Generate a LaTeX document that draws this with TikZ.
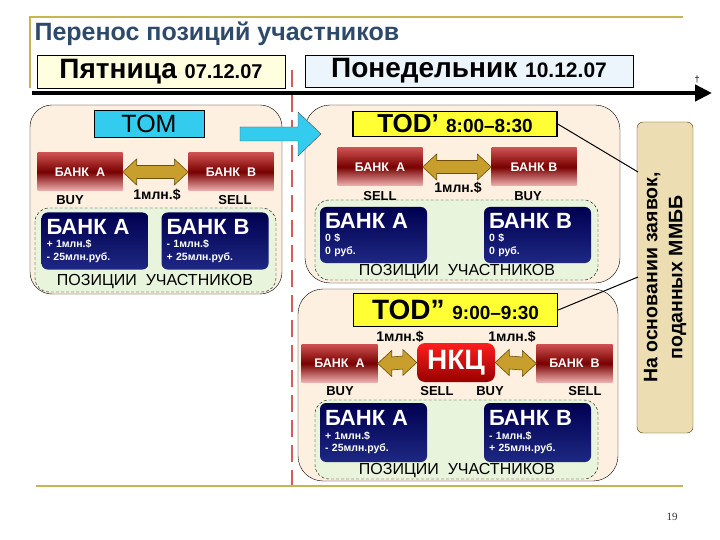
\documentclass[tikz,border=0pt]{standalone}
\usepackage{fontspec}
\setmainfont{Liberation Sans}
\newfontfamily\numfont{Liberation Serif}
\usetikzlibrary{calc,arrows.meta}

\definecolor{titleblue}{RGB}{46,74,107}
\definecolor{goldline}{RGB}{196,182,80}
\definecolor{friyellow}{RGB}{255,255,224}
\definecolor{monblue}{RGB}{236,245,252}
\definecolor{reddash}{RGB}{214,92,92}
\definecolor{panelbeige}{RGB}{253,240,224}
\definecolor{posgreen}{RGB}{232,244,220}
\definecolor{tomcyan}{RGB}{51,204,238}
\definecolor{todyellow}{RGB}{255,255,51}
\definecolor{notetan}{RGB}{236,221,178}
\definecolor{arrgold}{RGB}{200,158,44}
\definecolor{arrdark}{RGB}{110,80,10}
\definecolor{redtop}{RGB}{205,80,80}
\definecolor{redmid}{RGB}{120,0,0}
\definecolor{redbot}{RGB}{242,178,178}
\definecolor{navytop}{RGB}{0,0,80}
\definecolor{navybot}{RGB}{30,40,130}
\definecolor{nkctop}{RGB}{255,30,30}
\definecolor{nkcbot}{RGB}{150,0,0}

\tikzset{
  daybox/.style={draw=black, minimum height=33pt, inner sep=0pt,
    font=\bfseries\fontsize{28}{30}\selectfont},
  panel/.style={draw=black, fill=panelbeige, rounded corners=22pt},
  posbox/.style={draw=black, fill=posgreen, dash pattern=on 3pt off 2pt,
    rounded corners=14pt},
  tombox/.style={draw=black, fill=tomcyan, line width=1pt,
    minimum width=110pt, minimum height=27pt, font=\fontsize{25}{27}\selectfont},
  todbox/.style={draw=black, fill=todyellow, line width=1.5pt, minimum width=204pt,
    inner sep=0pt, font=\bfseries\fontsize{26}{28}\selectfont},
  redbank/.style={minimum width=85pt, minimum height=38pt, inner sep=0pt,
    top color=redtop, bottom color=redbot, middle color=redmid, text=white,
    font=\bfseries\fontsize{12.5}{14}\selectfont},
  nkcbox/.style={minimum width=78pt, minimum height=39pt, inner sep=0pt,
    rounded corners=8pt, top color=nkctop, bottom color=nkcbot, text=white,
    font=\bfseries\fontsize{28}{30}\selectfont},
  bluebank/.style={minimum width=107pt, minimum height=57pt, inner sep=5pt,
    rounded corners=6pt, top color=navytop, bottom color=navybot, text=white,
    align=left, text width=97pt, font=\bfseries\fontsize{10.5}{12.5}\selectfont},
  tradelbl/.style={font=\bfseries\fontsize{13}{14}\selectfont},
  amtlbl/.style={font=\bfseries\fontsize{14}{16}\selectfont},
  poslbl/.style={font=\fontsize{16}{18}\selectfont},
  goldarr/.style={fill=arrgold, draw=arrdark, line width=0.6pt},
  notebox/.style={draw=arrdark!70!black, fill=notetan, rounded corners=6pt,
    rotate=90, minimum width=311pt, minimum height=56pt, align=center,
    font=\bfseries\fontsize{19.5}{25}\selectfont},
}

% double block arrow between two banks
\newcommand{\goldarrow}[2]{%
  \draw[goldarr] let \p1=(#1.east), \p2=(#2.west) in
    (\x1,\y1) -- (\x1+14pt,\y1+13pt) -- (\x1+14pt,\y1+6.5pt)
    -- (\x2-14pt,\y2+6.5pt) -- (\x2-14pt,\y2+13pt) -- (\x2,\y2)
    -- (\x2-14pt,\y2-13pt) -- (\x2-14pt,\y2-6.5pt)
    -- (\x1+14pt,\y1-6.5pt) -- (\x1+14pt,\y1-13pt) -- cycle;}

\newcommand{\posA}[2]{{\fontsize{22}{24}\selectfont БАНК\ \ А}\\[1pt]#1\\#2}
\newcommand{\posB}[2]{{\fontsize{22}{24}\selectfont БАНК\ \ В}\\[1pt]#1\\#2}

\begin{document}
\begin{tikzpicture}[x=1pt,y=-1pt]
  \useasboundingbox (0,0) rectangle (720,540);

  % header
  \draw[goldline, line width=2.5pt] (30,88) -- (30,17) -- (683,17);
  \node[anchor=west, text=titleblue, font=\bfseries\fontsize{25}{27}\selectfont]
    (title) at (31,34) {Перенос позиций участников};
  \node[daybox, fill=friyellow, minimum width=248pt] (fri) at (161,71.5)
    {Пятница {\fontsize{20}{22}\selectfont 07.12.07}};
  \node[daybox, fill=monblue, minimum width=328pt, minimum height=32pt] (mon) at (469,71)
    {Понедельник {\fontsize{21}{22}\selectfont 10.12.07}};

  % time axis and day border
  \coordinate (tstart) at (32,93);
  \coordinate (tend) at (712,93);
  \draw[line width=4.5pt, -{Triangle[length=17pt,width=16pt]}] (tstart) -- (tend);
  \node[font=\fontsize{9}{9}\selectfont] (tick) at (697,80) {†};
  \draw[reddash, line width=2.5pt, dash pattern=on 17pt off 8pt] (292,70) -- (292,492);

  % TOM
  \draw[panel] (30,105) rectangle (282,294);
  \draw[posbox] (35,208) rectangle (276,292);
  \node[tombox] (tom) at (149,124) {TOM};
  \node[redbank] (tomA) at (80,172) {БАНК\ \ А};
  \node[redbank] (tomB) at (231,172) {БАНК\ \ В};
  \goldarrow{tomA}{tomB}
  \node[tradelbl] (tomAbuy) at (70,200) {BUY};
  \node[amtlbl] (tomamt) at (157,195) {1млн.\$};
  \node[tradelbl] (tomBsell) at (235,200) {SELL};
  \node[bluebank] (posA1) at (95,241) {\posA{+ 1млн.\$}{- 25млн.руб.}};
  \node[bluebank] (posB1) at (215,241) {\posB{- 1млн.\$}{+ 25млн.руб.}};
  \node[poslbl] (pos1) at (155,282) {ПОЗИЦИИ\ \ УЧАСТНИКОВ};

  % TOD'
  \draw[panel, rounded corners=25pt] (305,105) rectangle (620,283);
  \draw[posbox] (315,200) rectangle (598,280);
  \node[todbox, minimum height=25pt] (tod1) at (455,124)
    {TOD’ {\fontsize{19}{20}\selectfont 8:00–8:30}};
  \node[redbank] (todA) at (380,167) {БАНК\ \ А};
  \node[redbank] (todB) at (534,167) {БАНК\ В};
  \goldarrow{todA}{todB}
  \node[tradelbl] (todAsell) at (380,196) {SELL};
  \node[amtlbl] (todamt) at (458,188) {1млн.\$};
  \node[tradelbl] (todBbuy) at (528,196) {BUY};
  \node[bluebank, minimum height=56pt] (posA2) at (373.5,235) {\posA{0 \$}{0 руб.}};
  \node[bluebank, minimum height=56pt] (posB2) at (537.5,235) {\posB{0 \$}{0 руб.}};
  \node[poslbl] (pos2) at (457,272) {ПОЗИЦИИ\ \ УЧАСТНИКОВ};

  % transfer arrow
  \fill[tomcyan, draw=black!70] (240,127) -- (298,127) -- (298,112) -- (321,134)
    -- (298,156) -- (298,141) -- (240,141) -- cycle;

  % TOD''
  \draw[panel, rounded corners=25pt] (298,289) rectangle (618,481);
  \draw[posbox] (315,400) rectangle (598,479);
  \node[todbox, minimum height=33pt, font=\bfseries\fontsize{28}{30}\selectfont] (tod2) at (455.5,310)
    {TOD” {\fontsize{19}{20}\selectfont 9:00–9:30}};
  \node[amtlbl] (amtA) at (400,337) {1млн.\$};
  \node[amtlbl] (amtB) at (512,337) {1млн.\$};
  \node[redbank, minimum width=76pt] (cpA) at (339.5,363.5) {БАНК\ \ А};
  \node[nkcbox] (nkc) at (456,362.5) {НКЦ};
  \node[redbank, minimum width=76pt] (cpB) at (574.5,363.5) {БАНК\ \ В};
  \goldarrow{cpA}{nkc}
  \goldarrow{nkc}{cpB}
  \node[tradelbl] (cpAbuy) at (340,391) {BUY};
  \node[tradelbl] (nkcsell) at (437,391) {SELL};
  \node[tradelbl] (nkcbuy) at (490,391) {BUY};
  \node[tradelbl] (cpBsell) at (585,391) {SELL};
  \node[bluebank, minimum height=59pt] (posA3) at (373.5,432.5) {\posA{+ 1млн.\$}{- 25млн.руб.}};
  \node[bluebank, minimum height=59pt] (posB3) at (537.5,432.5) {\posB{- 1млн.\$}{+ 25млн.руб.}};
  \node[poslbl] (pos3) at (457,471) {ПОЗИЦИИ\ \ УЧАСТНИКОВ};

  % source of the orders
  \node[notebox] (note) at (665,277.5) {На основании заявок,\\поданных ММББ};
  \coordinate (noteA) at (638,172);
  \coordinate (noteB) at (638,277);
  \draw[line width=1pt] (tod1.east) -- (noteA);
  \draw[line width=1pt] (tod2.east) -- (noteB);

  % footer
  \draw[goldline, line width=2.5pt] (36,486) -- (683,486);
  \node[font=\numfont\fontsize{11}{12}\selectfont, text=black!80] (page) at (672,517) {19};
\end{tikzpicture}
\end{document}
